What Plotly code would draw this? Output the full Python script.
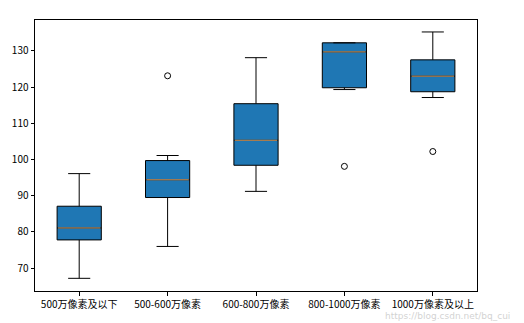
import plotly.graph_objects as go

# Price distribution (yuan) by camera resolution class
categories = ["500万像素及以下", "500-600万像素", "600-800万像素", "800-1000万像素", "1000万像素及以上"]
lower_whisker = [67.2, 76.0, 91.2, 119.3, 117.1]
q1 = [77.8, 89.5, 98.4, 119.8, 118.7]
median = [81.1, 94.4, 105.3, 129.7, 123.0]
q3 = [87.1, 99.7, 115.4, 132.2, 127.5]
upper_whisker = [96.1, 101.1, 128.1, 132.2, 135.2]
outlier_pos = [1, 3, 4]
outlier_val = [123.1, 98.1, 102.2]

positions = list(range(len(categories)))
box_half = 0.25

fig = go.Figure()
fig.add_trace(go.Box(
    x=positions, q1=q1, median=median, q3=q3,
    lowerfence=lower_whisker, upperfence=upper_whisker,
    width=2 * box_half, whiskerwidth=0.5,
    fillcolor="#1f77b4", line=dict(color="black", width=1),
    boxpoints=False, showlegend=False, hoverinfo="skip",
))

# Orange median lines drawn over the boxes
mx, my = [], []
for p, m in zip(positions, median):
    mx += [p - box_half + 0.01, p + box_half - 0.01, None]
    my += [m, m, None]
fig.add_trace(go.Scatter(x=mx, y=my, mode="lines",
                         line=dict(color="#d99a5c", width=1),
                         showlegend=False, hoverinfo="skip"))

# Fliers
fig.add_trace(go.Scatter(x=outlier_pos, y=outlier_val, mode="markers",
                         marker=dict(symbol="circle-open", size=6,
                                     color="black", line=dict(width=1)),
                         showlegend=False, hoverinfo="skip"))

fig.add_annotation(text="https://blog.csdn.net/bq_cui", xref="paper", yref="paper",
                   x=1.08, y=-0.066, xanchor="right", yanchor="top",
                   showarrow=False, font=dict(size=9, color="rgba(190,190,190,0.7)",
                                              family="DejaVu Sans"))

axis_common = dict(showline=True, linecolor="black", linewidth=1, mirror=True,
                   ticks="outside", ticklen=3.5, tickwidth=1, tickcolor="black",
                   showgrid=False, zeroline=False,
                   tickfont=dict(family="Noto Sans CJK SC, DejaVu Sans", size=10, color="black"))

fig.update_layout(
    width=524, height=323,
    margin=dict(l=31, r=47, t=20, b=31),
    paper_bgcolor="white", plot_bgcolor="white",
    xaxis=dict(range=[-0.5, 4.5], tickmode="array", tickvals=positions,
               ticktext=categories, **axis_common),
    yaxis=dict(range=[63.7, 138.5], tickmode="array",
               tickvals=[70, 80, 90, 100, 110, 120, 130], **axis_common),
)

fig.write_html("out.html")
